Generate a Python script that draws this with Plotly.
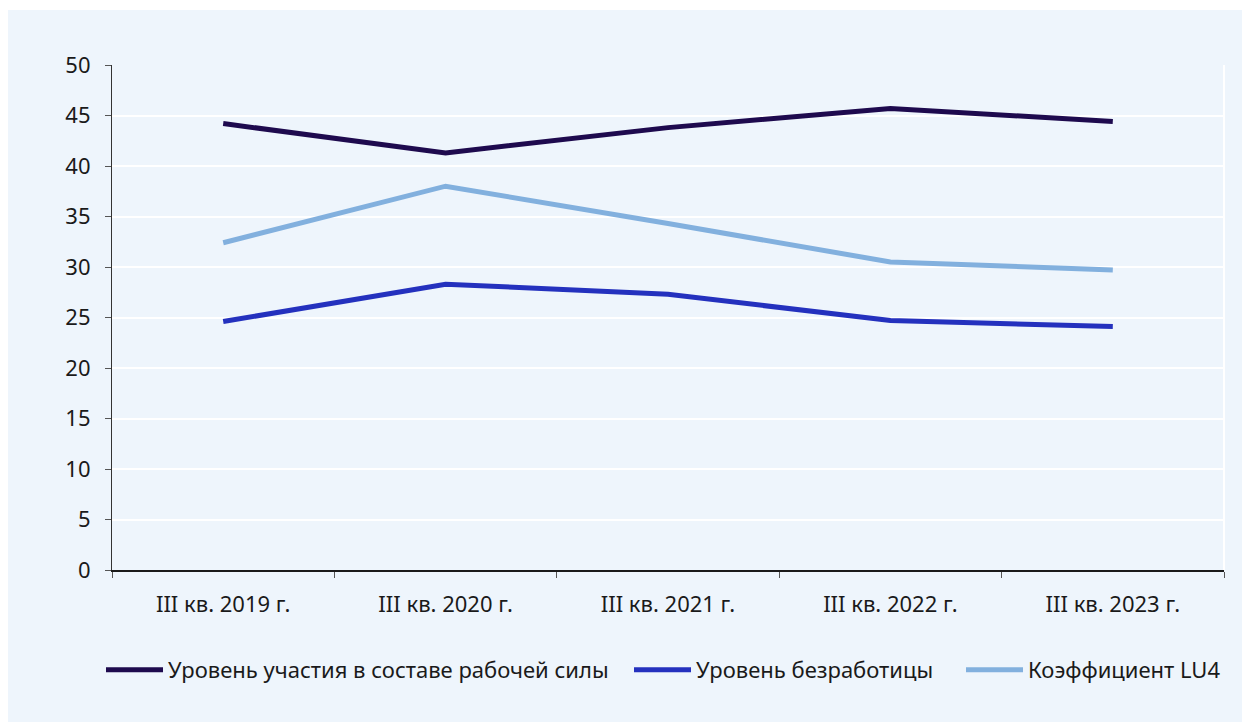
import plotly.graph_objects as go

categories = ["III кв. 2019 г.", "III кв. 2020 г.", "III кв. 2021 г.", "III кв. 2022 г.", "III кв. 2023 г."]
participation = [44.2, 41.3, 43.8, 45.7, 44.4]
unemployment = [24.6, 28.3, 27.3, 24.7, 24.1]
lu4 = [32.4, 38.0, 34.3, 30.5, 29.7]

series_names = ["Уровень участия в составе рабочей силы", "Уровень безработицы", "Коэффициент LU4"]
series_values = [participation, unemployment, lu4]
colors = ["#1E0A4E", "#2431BE", "#82B0DE"]
legend_ids = ["legend", "legend2", "legend3"]

fig = go.Figure()
for name, vals, col, lg in zip(series_names, series_values, colors, legend_ids):
    fig.add_trace(go.Scatter(x=categories, y=vals, mode="lines", name=name, legend=lg,
                             line=dict(color=col, width=5)))

font_family = "Noto Sans, Open Sans, sans-serif"
W, H = 1242, 714
L, R, T, B = 104, 26, 57, 152
pw, ph = W - L - R, H - T - B
legend_left_px = [93, 621, 953]
leg_common = dict(orientation="h", xanchor="left", y=-100 / ph, yanchor="middle",
                  font=dict(size=22), itemwidth=57, bgcolor="rgba(0,0,0,0)")
fig.update_layout(
    width=W, height=H,
    paper_bgcolor="#EEF5FC",
    plot_bgcolor="#EEF5FC",
    margin=dict(l=L, r=R, t=T, b=B),
    font=dict(family=font_family, size=22, color="#1a1a1a"),
    showlegend=True,
    legend=dict(x=(legend_left_px[0] - L) / pw, **leg_common),
    legend2=dict(x=(legend_left_px[1] - L) / pw, **leg_common),
    legend3=dict(x=(legend_left_px[2] - L) / pw, **leg_common),
    shapes=[dict(type="rect", xref="paper", yref="paper", x0=-L / pw, x1=1.0 + R / pw,
                 y0=1 + (T - 2) / ph, y1=1 + T / ph, fillcolor="white", line=dict(width=0)),
            dict(type="line", xref="paper", yref="paper", x0=1, x1=1, y0=0, y1=1,
                 line=dict(color="white", width=2), layer="below")],
)
fig.update_xaxes(type="category", tickson="boundaries", ticks="outside", ticklen=6,
                 tickcolor="#555555", showline=True, linecolor="#1a1a1a", linewidth=1.5,
                 showgrid=False, tickfont=dict(size=22), range=[-0.5, 4.5],
                 ticklabelstandoff=14)
fig.update_yaxes(range=[0, 50], dtick=5, ticks="outside", ticklen=6, tickcolor="#555555",
                 showline=True, linecolor="#333333", linewidth=1.2,
                 showgrid=True, gridcolor="white", gridwidth=1.5, zeroline=False,
                 tickfont=dict(size=22), ticklabelstandoff=10)

fig.write_html("out.html")
